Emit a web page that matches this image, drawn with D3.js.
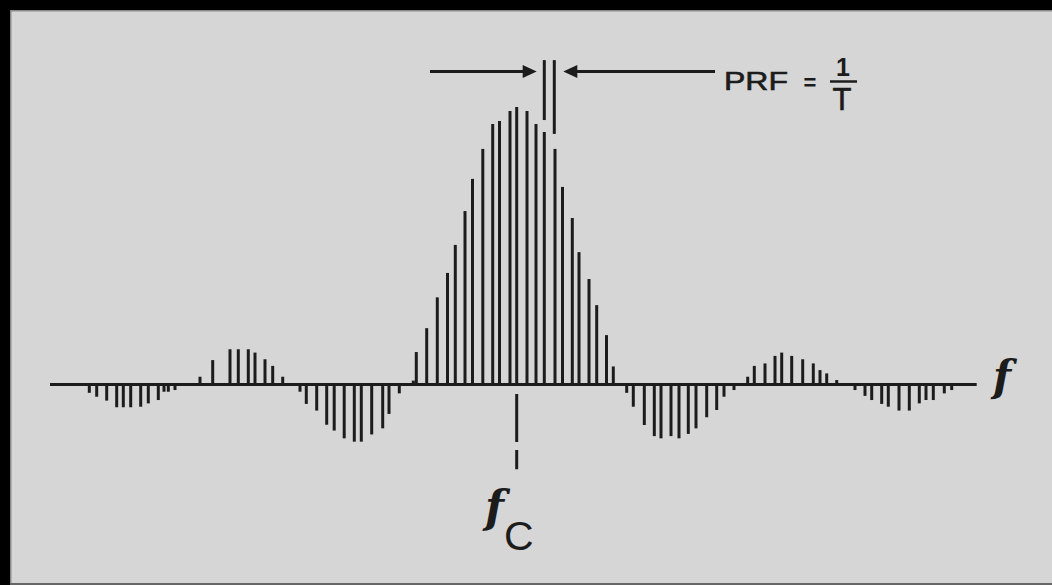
<!DOCTYPE html>
<html>
<head>
<meta charset="utf-8">
<script src="https://cdn.jsdelivr.net/npm/d3@7"></script>
<style>
  html, body { margin: 0; padding: 0; background: #d6d6d6; overflow: hidden; }
  svg { display: block; }
</style>
</head>
<body>
<svg id="chart" width="1052" height="585"></svg>
<script>
// Spectral lines: frequency offset from fc (arbitrary units) and relative amplitude
const freqOffsets = [
  -42.74, -42.0, -41.0, -40.0, -39.34, -38.6, -37.6, -36.84, -35.84, -35.27, -34.84, -34.17,
  -31.67, -30.4, -28.67, -27.84, -26.84, -26.17, -25.17, -24.4, -23.4,
  -21.67, -21.04, -20.0, -19.0, -18.25, -17.25, -16.24, -15.54, -14.5, -13.4, -12.77, -11.74,
  -10.34, -10.04, -9.0, -7.94, -6.92, -6.14, -5.17, -4.42, -3.39, -2.4, -1.72, -0.67, 0, 1.03,
  1.93, 2.76, 3.83, 4.58, 5.56, 6.23, 7.23, 8.0, 8.98, 9.66,
  11.0, 11.66, 12.76, 13.76, 14.43, 15.43, 16.23, 17.16, 17.93, 19.0, 20.0, 20.73, 21.73,
  23.1, 23.76, 24.83, 25.83, 26.5, 27.5, 28.6, 29.66, 30.33, 31.0, 32.0,
  33.83, 34.83, 35.5, 36.5, 37.16, 38.23, 39.26, 40.26, 40.93, 41.66, 42.76, 43.5
];
const amplitudes = [
  -0.030, -0.044, -0.058, -0.082, -0.082, -0.082, -0.080, -0.068, -0.056, -0.026, -0.026, -0.020,
  0.028, 0.088, 0.127, 0.127, 0.127, 0.115, 0.091, 0.067, 0.028,
  -0.026, -0.070, -0.094, -0.145, -0.166, -0.194, -0.206, -0.206, -0.180, -0.158, -0.106, -0.032,
  0.014, 0.117, 0.203, 0.314, 0.402, 0.503, 0.625, 0.741, 0.849, 0.939, 0.950, 0.986, 1.000, 0.986,
  0.939, 0.910, 0.849, 0.712, 0.600, 0.477, 0.380, 0.286, 0.178, 0.065,
  -0.030, -0.080, -0.146, -0.186, -0.194, -0.186, -0.194, -0.178, -0.158, -0.118, -0.092, -0.044, -0.020,
  0.028, 0.067, 0.076, 0.103, 0.115, 0.103, 0.091, 0.076, 0.052, 0.040, 0.016,
  -0.020, -0.041, -0.056, -0.070, -0.080, -0.094, -0.094, -0.068, -0.056, -0.056, -0.032, -0.020
];
const axisExtent = [-46.67, 46.0];
// PRF annotation: the two lines bounding one line spacing
const prfLineFreqs = [2.76, 3.76];
const prfLineBottoms = [0.953, 0.903];
const prfLineTop = 1.169;
const prfArrowLevel = 1.128;
const prfArrowLeftStart = -8.67, prfArrowLeftTip = 2.0;
const prfArrowRightStart = 19.83, prfArrowRightTip = 4.66;
const fcDash = [-0.034, -0.305];
const labelAxis = "f";
const labelCenter = ["f", "C"];
const labelPRF = ["PRF", "=", "1", "T"];

const svg = d3.select("#chart");
const W = 1052, H = 585;
const ink = "#1c1c1c";
const serifIt = "DejaVu Serif, Liberation Serif, serif";
const sans = "Liberation Sans, Arial, sans-serif";

const x = d3.scaleLinear().domain(axisExtent).range([50, 976.7]);
const y = d3.scaleLinear().domain([0, 1]).range([384.5, 107]);

// background & frame
svg.append("rect").attr("x", 0).attr("y", 0).attr("width", W).attr("height", H).attr("fill", "#d6d6d6");
svg.append("rect").attr("x", 0).attr("y", 0).attr("width", W).attr("height", 10).attr("fill", "#000");
svg.append("rect").attr("x", 0).attr("y", 0).attr("width", 10).attr("height", H).attr("fill", "#000");
svg.append("rect").attr("x", 10).attr("y", 10).attr("width", W - 10).attr("height", 1.5).attr("fill", "#8a8a8a");
svg.append("rect").attr("x", 10).attr("y", 10).attr("width", 1.5).attr("height", H - 10).attr("fill", "#8a8a8a");
svg.append("rect").attr("x", 10).attr("y", 583).attr("width", W - 10).attr("height", 2).attr("fill", "#666");

// spectral lines
svg.append("g").selectAll("line")
  .data(freqOffsets.map((f, i) => ({ f, a: amplitudes[i] })))
  .join("line")
  .attr("x1", d => x(d.f)).attr("x2", d => x(d.f))
  .attr("y1", y(0)).attr("y2", d => y(d.a))
  .attr("stroke", ink).attr("stroke-width", 3);

// frequency axis
svg.append("line")
  .attr("x1", x(axisExtent[0])).attr("x2", x(axisExtent[1]))
  .attr("y1", y(0)).attr("y2", y(0))
  .attr("stroke", ink).attr("stroke-width", 3);

svg.append("text").text(labelAxis)
  .attr("x", 1002).attr("y", 391)
  .attr("text-anchor", "middle")
  .attr("font-family", serifIt).attr("font-style", "italic").attr("font-weight", "bold")
  .attr("font-size", 42).attr("fill", ink);

// fc dashed marker
svg.append("line")
  .attr("x1", x(0)).attr("x2", x(0))
  .attr("y1", y(fcDash[0])).attr("y2", y(fcDash[1]))
  .attr("stroke", ink).attr("stroke-width", 3)
  .attr("stroke-dasharray", "48 8 40");

const fcText = svg.append("text")
  .attr("x", 485).attr("y", 522)
  .attr("fill", ink);
fcText.append("tspan").text(labelCenter[0])
  .attr("font-family", serifIt).attr("font-style", "italic").attr("font-weight", "bold")
  .attr("font-size", 44);
fcText.append("tspan").text(labelCenter[1])
  .attr("dy", 28)
  .attr("font-family", sans).attr("font-size", 41);

// PRF extension lines
prfLineFreqs.forEach((f, i) => {
  svg.append("line")
    .attr("x1", x(f)).attr("x2", x(f))
    .attr("y1", y(prfLineTop)).attr("y2", y(prfLineBottoms[i]))
    .attr("stroke", ink).attr("stroke-width", 3);
});

// arrows
const ay = y(prfArrowLevel);
function arrow(fStart, fTip) {
  const xs = x(fStart), xt = x(fTip);
  const dir = xt > xs ? 1 : -1;
  svg.append("line")
    .attr("x1", xs).attr("x2", xt - dir * 10)
    .attr("y1", ay).attr("y2", ay)
    .attr("stroke", ink).attr("stroke-width", 3);
  svg.append("path")
    .attr("d", `M${xt},${ay} L${xt - dir * 14},${ay - 6.5} L${xt - dir * 14},${ay + 6.5} Z`)
    .attr("fill", ink);
}
arrow(prfArrowLeftStart, prfArrowLeftTip);
arrow(prfArrowRightStart, prfArrowRightTip);

// PRF = 1/T
svg.append("text").text(labelPRF[0])
  .attr("x", 724).attr("y", 90)
  .attr("font-family", sans).attr("font-size", 25)
  .attr("textLength", 64).attr("lengthAdjust", "spacingAndGlyphs")
  .attr("fill", ink).attr("stroke", ink).attr("stroke-width", 0.6);
svg.append("text").text(labelPRF[1])
  .attr("x", 810).attr("y", 90).attr("text-anchor", "middle")
  .attr("font-family", sans).attr("font-size", 22).attr("font-weight", "bold").attr("fill", ink);
svg.append("text").text(labelPRF[2])
  .attr("x", 843).attr("y", 75.5).attr("text-anchor", "middle")
  .attr("font-family", sans).attr("font-size", 25).attr("font-weight", "bold").attr("fill", ink);
svg.append("line")
  .attr("x1", 830).attr("x2", 857).attr("y1", 81.5).attr("y2", 81.5)
  .attr("stroke", ink).attr("stroke-width", 2.5);
svg.append("text").text(labelPRF[3])
  .attr("x", 842).attr("y", 110).attr("text-anchor", "middle")
  .attr("font-family", sans).attr("font-size", 31)
  .attr("fill", ink).attr("stroke", ink).attr("stroke-width", 0.6);
</script>
</body>
</html>
